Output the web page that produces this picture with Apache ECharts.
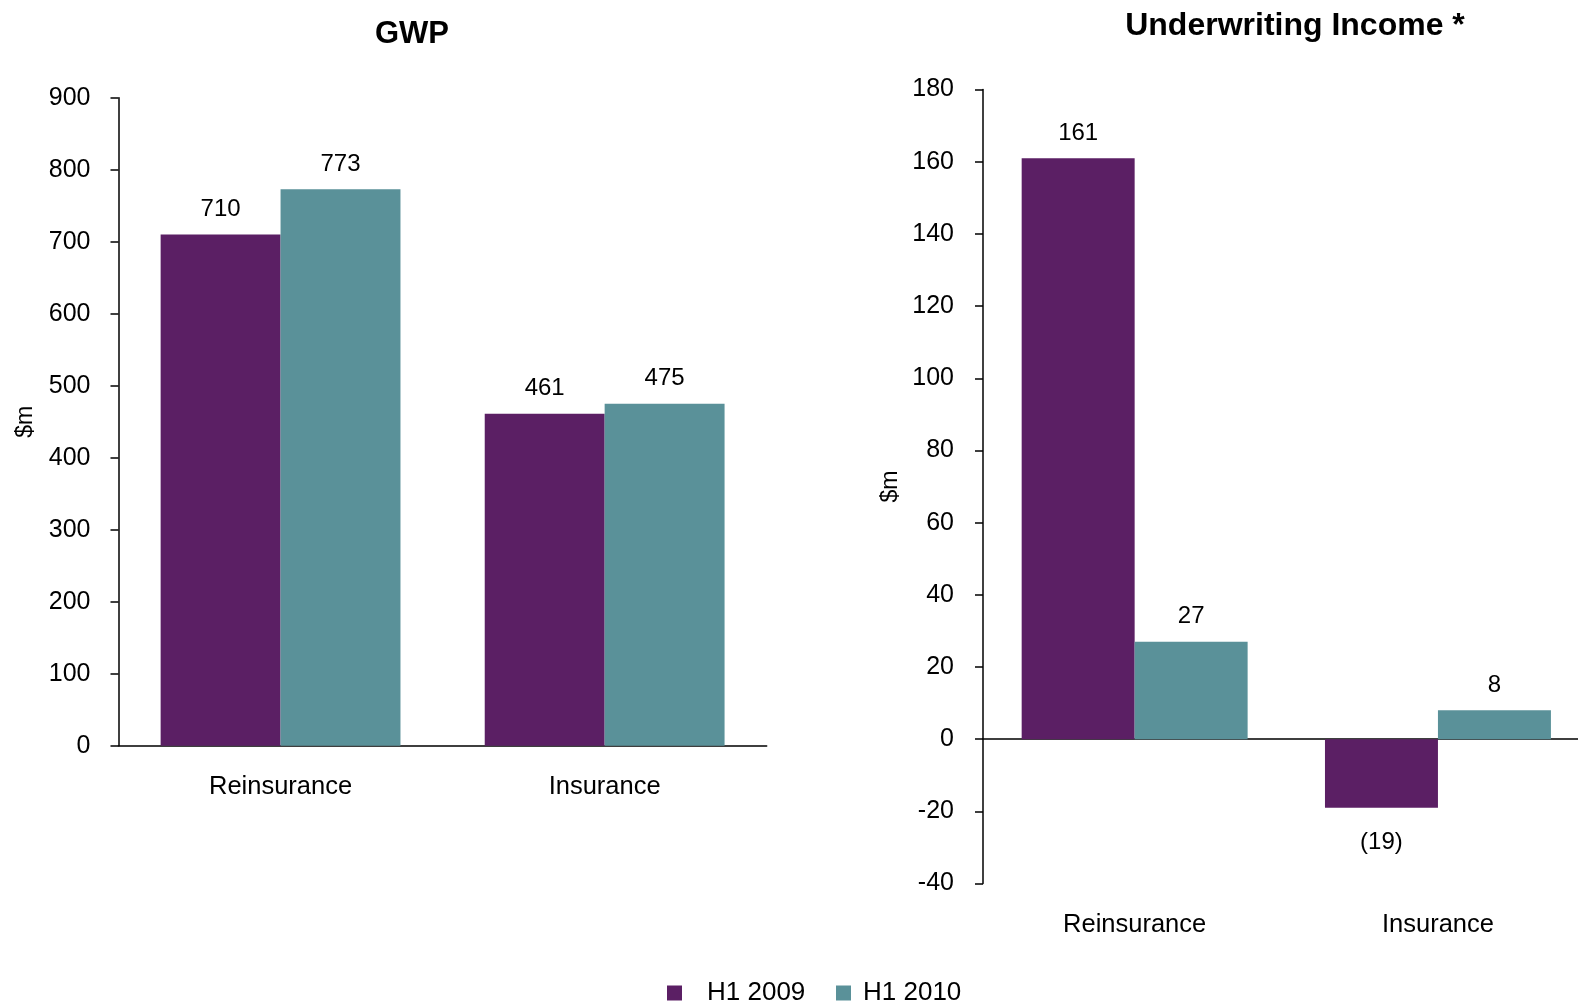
<!DOCTYPE html>
<html><head><meta charset="utf-8">
<script src="https://cdn.jsdelivr.net/npm/echarts@6/dist/echarts.min.js"></script>
<style>html,body{margin:0;padding:0;background:#fff;overflow:hidden}#c{width:1620px;height:1003px}</style>
</head><body><div id="c"></div>
<script>
const categories = ['Reinsurance', 'Insurance'];
const seriesNames = ['H1 2009', 'H1 2010'];
const gwp2009 = [710, 461];
const gwp2010 = [773, 475];
const uw2009 = [161, -19];
const uw2010 = [27, 8];
const gwpTicks = [0, 900, 100];
const uwTicks = [-40, 180, 20];

const FONT = '"Liberation Sans", Arial, sans-serif';
const purple = '#5b1f64';
const teal = '#5a9199';

function fmt(v) { return v < 0 ? '(' + Math.abs(v) + ')' : String(v); }
function mkData(arr) {
  return arr.map(v => v < 0 ? { value: v, label: { position: 'bottom', distance: 23 } } : { value: v });
}
const labelStyle = { show: true, position: 'top', distance: 13, fontSize: 24, color: '#000', fontFamily: FONT,
  formatter: p => fmt(p.value) };

const axisLineStyle = { color: '#000', width: 1.5 };
const chart = echarts.init(document.getElementById('c'));
chart.setOption({
  animation: false,
  title: [
    { text: 'GWP', left: 407, top: 14, textAlign: 'center', textStyle: { fontSize: 31, fontWeight: 'bold', color: '#000', fontFamily: FONT } },
    { text: 'Underwriting Income *', left: 1290, top: 5, textAlign: 'center', textStyle: { fontSize: 32, fontWeight: 'bold', color: '#000', fontFamily: FONT } }
  ],
  legend: [
    { data: [seriesNames[0]], left: 662, top: 975, itemWidth: 15, itemHeight: 15, icon: 'rect',
      textStyle: { fontSize: 26, color: '#000', fontFamily: FONT, padding: [0, 0, 0, 20] } },
    { data: [seriesNames[1]], left: 831, top: 975, itemWidth: 15, itemHeight: 15, icon: 'rect',
      textStyle: { fontSize: 26, color: '#000', fontFamily: FONT, padding: [0, 0, 0, 7] } }
  ],
  grid: [
    { left: 118.5, top: 97.7, width: 648.2, height: 648 },
    { left: 983, top: 89.6, width: 606.6, height: 794 }
  ],
  xAxis: [
    { type: 'category', data: categories, gridIndex: 0,
      axisLine: { lineStyle: axisLineStyle }, axisTick: { length: 8, lineStyle: axisLineStyle },
      axisLabel: { fontSize: 25.5, color: '#000', fontFamily: FONT, margin: 28 } },
    { type: 'category', data: categories, gridIndex: 1, position: 'bottom',
      axisLine: { show: false, onZero: false }, axisTick: { show: false },
      axisLabel: { fontSize: 25.5, color: '#000', fontFamily: FONT, margin: 28 } },
    { type: 'category', data: categories, gridIndex: 1,
      axisLine: { onZero: true, lineStyle: axisLineStyle }, axisTick: { length: 8, lineStyle: axisLineStyle },
      axisLabel: { show: false } }
  ],
  yAxis: [
    { type: 'value', gridIndex: 0, min: gwpTicks[0], max: gwpTicks[1], interval: gwpTicks[2],
      name: '$m', nameLocation: 'middle', nameGap: 81, nameTextStyle: { fontSize: 23, color: '#000', fontFamily: FONT },
      axisLine: { show: true, lineStyle: axisLineStyle }, axisTick: { show: true, length: 8, lineStyle: axisLineStyle },
      splitLine: { show: false },
      axisLabel: { fontSize: 25, color: '#000', fontFamily: FONT, margin: 28 } },
    { type: 'value', gridIndex: 1, min: uwTicks[0], max: uwTicks[1], interval: uwTicks[2],
      name: '$m', nameLocation: 'middle', nameGap: 81, nameTextStyle: { fontSize: 23, color: '#000', fontFamily: FONT },
      axisLine: { show: true, lineStyle: axisLineStyle }, axisTick: { show: true, length: 8, lineStyle: axisLineStyle },
      splitLine: { show: false },
      axisLabel: { fontSize: 25, color: '#000', fontFamily: FONT, margin: 29 } }
  ],
  series: [
    { name: seriesNames[0], type: 'bar', xAxisIndex: 0, yAxisIndex: 0, data: mkData(gwp2009), itemStyle: { color: purple },
      barGap: '0%', barCategoryGap: '26%', label: labelStyle },
    { name: seriesNames[1], type: 'bar', xAxisIndex: 0, yAxisIndex: 0, data: mkData(gwp2010), itemStyle: { color: teal },
      barGap: '0%', barCategoryGap: '26%', label: labelStyle },
    { name: seriesNames[0], type: 'bar', xAxisIndex: 1, yAxisIndex: 1, data: mkData(uw2009), itemStyle: { color: purple },
      barGap: '0%', barCategoryGap: '25.5%', label: labelStyle },
    { name: seriesNames[1], type: 'bar', xAxisIndex: 1, yAxisIndex: 1, data: mkData(uw2010), itemStyle: { color: teal },
      barGap: '0%', barCategoryGap: '25.5%', label: labelStyle }
  ]
});
</script></body></html>
